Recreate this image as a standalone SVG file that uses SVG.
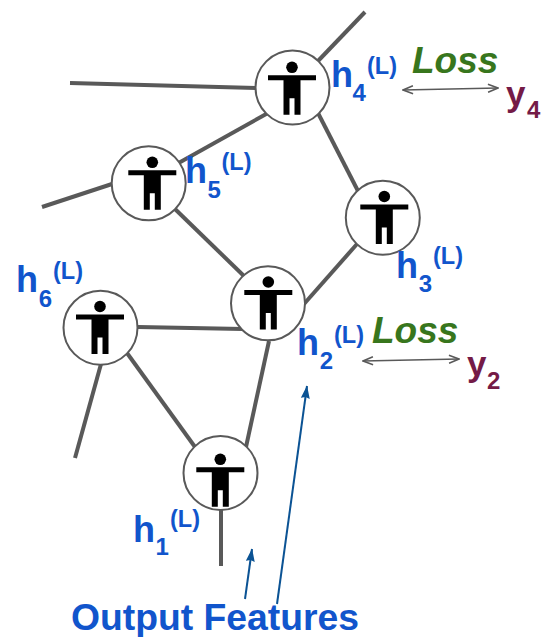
<svg xmlns="http://www.w3.org/2000/svg" width="542" height="637" viewBox="0 0 542 637">
<style>
.edge{stroke:#595959;stroke-width:4;fill:none}
.ring{fill:#fff;stroke:#595959;stroke-width:2}
.h{font:bold 36px "Liberation Sans",Arial,sans-serif;fill:#1155cc}
.sub{font:bold 24px "Liberation Sans",Arial,sans-serif;fill:#1155cc}
.sup{font:bold 23.500px "Liberation Sans",Arial,sans-serif;fill:#1155cc}
.loss{font:italic bold 37px "Liberation Sans",Arial,sans-serif;fill:#38761d}
.y{font:bold 35px "Liberation Sans",Arial,sans-serif;fill:#741b47}
.ysub{font:bold 24px "Liberation Sans",Arial,sans-serif;fill:#741b47}
.out{font:bold 37.300px "Liberation Sans",Arial,sans-serif;fill:#1155cc}
.dbl{stroke:#595959;stroke-width:1.500;fill:none;marker-start:url(#open);marker-end:url(#open)}
.blue{stroke:#0b5394;stroke-width:2;fill:none;marker-end:url(#solid)}
</style>
<defs>
<marker id="open" viewBox="0 0 12 10" refX="11" refY="5" markerWidth="12" markerHeight="10" markerUnits="userSpaceOnUse" orient="auto-start-reverse"><path d="M1 1L11 5L1 9" fill="none" stroke="#595959" stroke-width="1.500"/></marker>
<marker id="solid" viewBox="0 0 13 9" refX="12.500" refY="4.500" markerWidth="13" markerHeight="9" markerUnits="userSpaceOnUse" orient="auto"><path d="M0 0L13 4.500L0 9L1.500 4.500Z" fill="#0b5394"/></marker>
<g id="person"><circle cx="0" cy="-20" r="5.800" fill="#000"/><path d="M-24-12H24V-7H8.500V27.500H2.500V11H-2.500V27.500H-8.500V-7H-24Z" fill="#000"/></g>
</defs>
<g id="connectors">
<path class="edge" d="M365 12L318 61"/>
<path class="edge" d="M70 83L256 88"/>
<path class="edge" d="M42 207L112 184"/>
<path class="edge" d="M175 165L268 113"/>
<path class="edge" d="M318 113L358 191"/>
<path class="edge" d="M175 209L245 277"/>
<path class="edge" d="M357 244L304 304"/>
<path class="edge" d="M138 327L243 329"/>
<path class="edge" d="M127 353L195 447"/>
<path class="edge" d="M101 364L75 458"/>
<path class="edge" d="M269 341L246 447"/>
<path class="edge" d="M221 510V566"/>
<path class="dbl" d="M403 90L498 88"/>
<path class="dbl" d="M363 361L459 359"/>
<path class="blue" d="M245 599L252 549"/>
<path class="blue" d="M277 604L307 386"/>
</g>
<g id="n4"><circle class="ring" cx="292.500" cy="87.500" r="37"/><use href="#person" x="292" y="87.300"/></g>
<g id="n5"><circle class="ring" cx="148.700" cy="183.300" r="37"/><use href="#person" x="152.300" y="182.300"/></g>
<g id="n3"><circle class="ring" cx="382.800" cy="217.700" r="37"/><use href="#person" x="384.300" y="216.500"/></g>
<g id="n2"><circle class="ring" cx="268" cy="303.300" r="37"/><use href="#person" x="268.300" y="302"/></g>
<g id="n6"><circle class="ring" cx="100.500" cy="327.700" r="37"/><use href="#person" x="100" y="326.500"/></g>
<g id="n1"><circle class="ring" cx="220.500" cy="473" r="37"/><use href="#person" x="220.300" y="479.300"/></g>
<g id="labels">
<text class="h" x="331" y="87">h</text><text class="sub" x="352.500" y="101">4</text><text class="sup" x="367" y="74">(L)</text>
<text class="h" x="185" y="183">h</text><text class="sub" x="207.500" y="198">5</text><text class="sup" x="221.500" y="170">(L)</text>
<text class="h" x="396" y="278">h</text><text class="sub" x="418.800" y="292">3</text><text class="sup" x="433" y="264">(L)</text>
<text class="h" x="297" y="355">h</text><text class="sub" x="319.800" y="369">2</text><text class="sup" x="334" y="343">(L)</text>
<text class="h" x="16" y="292">h</text><text class="sub" x="38.800" y="307">6</text><text class="sup" x="53" y="279">(L)</text>
<text class="h" x="133" y="542">h</text><text class="sub" x="155.500" y="555">1</text><text class="sup" x="170" y="527">(L)</text>
<text class="loss" x="412" y="73">Loss</text>
<text class="loss" x="372" y="343">Loss</text>
<text class="y" x="506" y="106">y</text><text class="ysub" x="527" y="118">4</text>
<text class="y" x="467" y="376">y</text><text class="ysub" x="487" y="389">2</text>
<text class="out" x="71" y="630">Output Features</text>
</g>
</svg>
